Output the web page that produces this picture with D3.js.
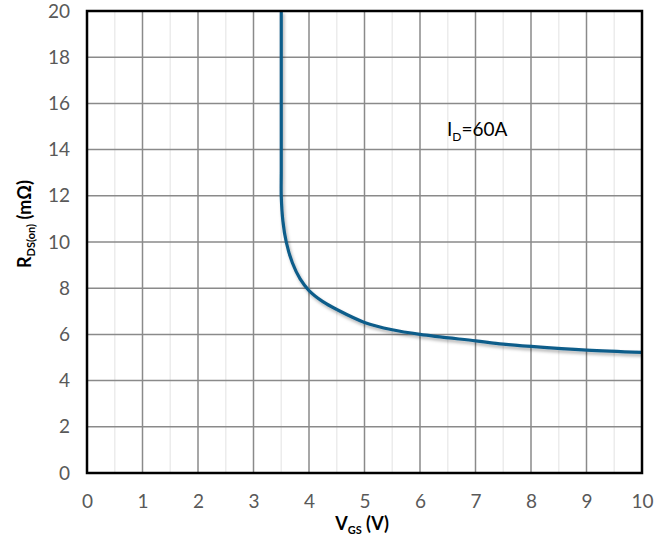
<!DOCTYPE html>
<html><head><meta charset="utf-8">
<script src="https://cdn.jsdelivr.net/npm/d3@7"></script>
<style>body{margin:0;background:#fff}svg{display:block}</style>
</head><body><svg id="c" width="666" height="539"></svg>
<script>
const vgs = [3.5, 3.5, 3.5, 3.5, 3.53, 3.59, 3.7, 3.84, 4.0, 4.25, 4.5, 5.0, 5.5, 6.0, 7.0, 7.5, 8.0, 9.0, 10.0];
const rds = [20, 16, 13, 12.0, 10.9, 10.0, 9.1, 8.4, 7.9, 7.42, 7.08, 6.52, 6.2, 6.0, 5.72, 5.58, 5.48, 5.32, 5.22];
const xTicks = [0,1,2,3,4,5,6,7,8,9,10];
const xMinor = [0.5,1.5,2.5,3.5,4.5,5.5,6.5,7.5,8.5,9.5];
const yTicks = [0,2,4,6,8,10,12,14,16,18,20];
const annotation = "=60A";

const svg = d3.select("#c");
const L=87, R=642, T=11, B=473;
const x = d3.scaleLinear().domain([0,10]).range([L,R]);
const y = d3.scaleLinear().domain([0,20]).range([B,T]);
const font = "Lato, 'Open Sans', sans-serif";

svg.append("g").selectAll("line").data(xMinor).join("line")
  .attr("x1",d=>x(d)).attr("x2",d=>x(d)).attr("y1",T).attr("y2",B)
  .attr("stroke","#ececec").attr("stroke-width",1.5);
svg.append("g").selectAll("line").data(xTicks).join("line")
  .attr("x1",d=>x(d)).attr("x2",d=>x(d)).attr("y1",T).attr("y2",B)
  .attr("stroke","#8a8a8a").attr("stroke-width",1.5);
svg.append("g").selectAll("line").data(yTicks).join("line")
  .attr("x1",L).attr("x2",R).attr("y1",d=>y(d)).attr("y2",d=>y(d))
  .attr("stroke","#8a8a8a").attr("stroke-width",1.5);

const pts = vgs.map((v,i)=>[v,rds[i]]);
const line = d3.line().x(d=>x(d[0])).y(d=>y(d[1])).curve(d3.curveCatmullRom.alpha(0.5));
const defs = svg.append("defs");
const f = defs.append("filter").attr("id","sh").attr("x","-10%").attr("y","-10%").attr("width","120%").attr("height","120%");
f.append("feDropShadow").attr("dx",1.5).attr("dy",2.5).attr("stdDeviation",1.5).attr("flood-color","#000").attr("flood-opacity",0.3);
const cp = defs.append("clipPath").attr("id","cp");
cp.append("rect").attr("x",L).attr("y",T).attr("width",R-L).attr("height",B-T);
svg.append("path").datum(pts).attr("d",line).attr("fill","none")
  .attr("stroke","#115d8a").attr("stroke-width",3.2).attr("filter","url(#sh)")
  .attr("clip-path","url(#cp)");

svg.append("rect").attr("x",L).attr("y",T).attr("width",R-L).attr("height",B-T)
  .attr("fill","none").attr("stroke","#000").attr("stroke-width",2.5);

const yAxis = d3.axisLeft(y).tickValues(yTicks).tickSize(0).tickPadding(17);
const ga = svg.append("g").attr("transform",`translate(${L},0)`).call(yAxis);
ga.select(".domain").remove();
ga.selectAll("text").attr("font-family",font).attr("font-size",19).attr("fill","#595959");
const xAxis = d3.axisBottom(x).tickValues(xTicks).tickSize(0).tickPadding(22);
const gx = svg.append("g").attr("transform",`translate(0,${B})`).call(xAxis);
gx.select(".domain").remove();
gx.selectAll("text").attr("font-family",font).attr("font-size",19).attr("fill","#595959");

const xt = svg.append("text").attr("x",362).attr("y",530).attr("text-anchor","middle")
  .attr("font-family",font).attr("font-weight","bold").attr("font-size",18).attr("fill","#000");
xt.append("tspan").text("V");
xt.append("tspan").attr("font-size",11).attr("dy",4).text("GS");
xt.append("tspan").attr("dy",-4).text(" (V)");

const yt = svg.append("text").attr("transform","translate(31,224) rotate(-90)").attr("text-anchor","middle")
  .attr("font-family",font).attr("font-weight","bold").attr("font-size",18).attr("fill","#000");
yt.append("tspan").text("R");
yt.append("tspan").attr("font-size",11).attr("dy",4).text("DS(on)");
yt.append("tspan").attr("dy",-4).text(" (mΩ)");

const an = svg.append("text").attr("x",447).attr("y",136)
  .attr("font-family",font).attr("font-size",19).attr("fill","#000");
an.append("tspan").text("I");
an.append("tspan").attr("font-size",12).attr("dy",5).text("D");
an.append("tspan").attr("dy",-5).text(annotation);
</script></body></html>
